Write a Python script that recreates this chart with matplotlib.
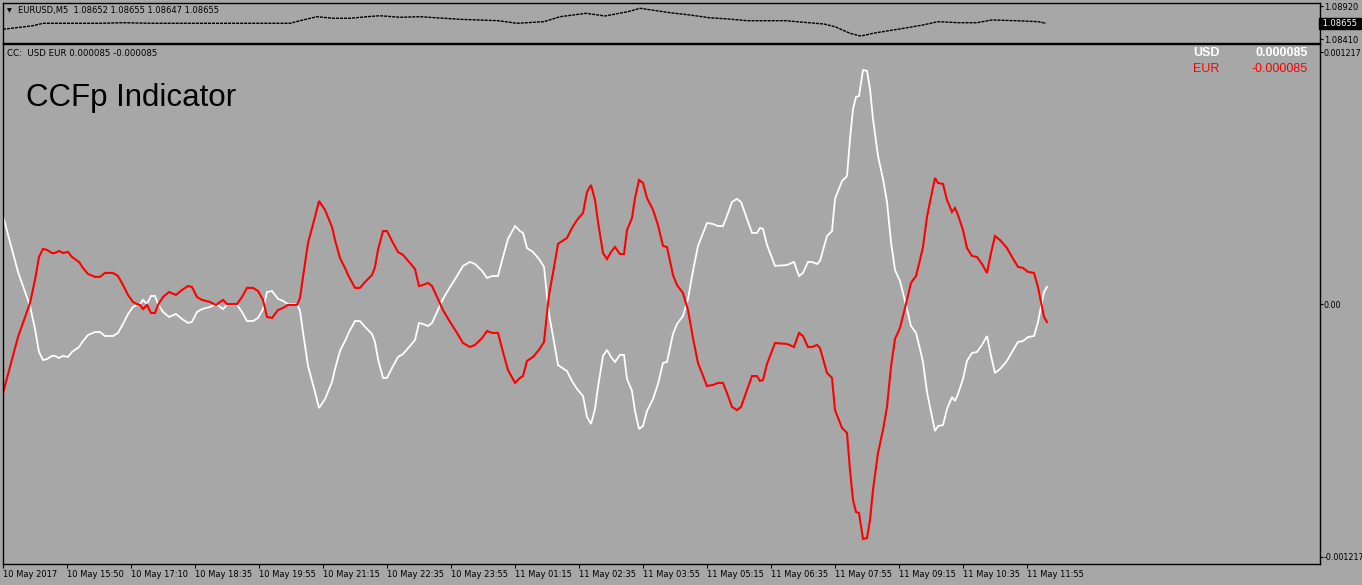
import numpy as np
import matplotlib
matplotlib.use("Agg")
import matplotlib.pyplot as plt

# ---------------- data ----------------
# CCFp indicator, EUR line (values in millionths); USD line is its mirror
eur_bar = [0, 1.75, 3.75, 5, 6.75, 8, 9, 10, 11, 12.25, 13, 14, 15, 16.25, 17.25, 19, 20, 21.25, 23, 24.25,
           25.5, 27.5, 28.75, 30, 31.25, 32.5, 33.5, 34.25, 35, 36, 37, 38, 38.75, 40, 41.5, 43.25, 44.75,
           46.25, 47.25, 48.5, 49.75, 51.75, 53.25, 55, 56, 58.5, 59.75, 61, 62.5, 63.75, 65, 66, 67.25,
           68.75, 70, 71.25, 73.5, 74.25, 75, 76.25, 78, 79, 80.5, 82.25, 83, 84.25, 85.5, 86.5, 88, 89.25,
           90.5, 92.25, 93, 93.75, 95, 96, 97.25, 98.75, 100, 101.75, 103, 104, 105, 106.25, 107.25, 108.5,
           110, 111.75, 113.5, 115, 116.75, 118, 119.75, 121, 122.25, 123.75, 125, 126.25, 128, 129.25, 130,
           131, 132.5, 134, 135.25, 136, 136.5, 137.5, 138.75, 141, 142.25, 143.5, 145, 146, 147, 148,
           148.75, 150, 151, 152, 153, 154.25, 155.25, 156, 157.25, 158, 159, 160, 161, 162.5, 163.75, 165,
           166, 167.5, 168.5, 170, 171.25, 172.5, 173.75, 176, 177.5, 178.75, 180, 181, 182.25, 183.5, 184.5,
           186, 187.25, 188.5, 189.25, 190, 191, 193, 196, 197.75, 199, 200, 201.25, 202.25, 203.5, 204.25,
           206, 207.25, 208, 209.75, 211, 211.75, 212.5, 213.25, 214, 215, 216, 216.75, 217.5, 218.75, 220,
           221, 222, 223, 224.25, 225, 226, 227, 228.25, 229.25, 230, 231, 232, 233, 233.75, 235, 236,
           237.25, 238, 238.75, 240, 241, 242.25, 243.5, 244.75, 246, 247, 248, 249.25, 251, 252.25, 253.75,
           255, 256.25, 257.75, 258.75, 259.75, 260.25, 261]
eur_u = [-427, -301, -157, -89, 7, 118, 229, 268, 263, 248, 248, 258, 248, 253, 229, 205, 176, 147, 133, 133,
         152, 152, 137, 94, 46, 12, 2, -2, -22, -2, -41, -41, -2, 36, 60, 46, 70,
         89, 84, 36, 22, 12, -2, 22, 2, 2, 36, 80, 80, 65, 22, -60, -65,
         -27, -17, -2, -2, 31, 133, 296, 422, 499, 456, 374, 311, 224, 176, 133, 80, 80,
         108, 142, 181, 263, 354, 354, 306, 253, 239, 200, 171, 89, 94, 104, 89, 36,
         -27, -84, -137, -186, -205, -195, -162, -128, -137, -137, -229, -316, -378, -354, -345,
         -272, -253, -219, -181, -41, 46, 152, 292, 321, 369, 407, 441, 542, 576, 504,
         398, 248, 219, 253, 277, 243, 243, 359, 417, 513, 600, 586, 513, 456, 383, 282,
         277, 142, 94, 55, -27, -162, -282, -393, -388, -378, -378, -427, -494, -509, -494,
         -412, -345, -345, -369, -364, -287, -186, -190, -205, -137, -152, -205, -205, -195, -210,
         -330, -354, -509, -595, -619, -798, -942, -1000, -1005, -1130, -1126, -1039, -894, -716, -605,
         -494, -301, -166, -113, -55, 22, 104, 137, 215, 277, 422, 518, 610, 586, 581, 504,
         446, 465, 431, 359, 272, 234, 229, 195, 152, 248, 330, 311, 272, 229, 181,
         176, 157, 152, 84, -12, -60, -85]

# EURUSD M5 price strip (closes read at sample bars)
px_bar = [0, 7.5, 10, 24.25, 30, 36.75, 49.25, 57.5, 66, 71.75, 75, 78.5, 82.5, 86.75, 91, 94.25, 99.25, 104.25,
          114.25, 123.75, 128.5, 135.25, 139.25, 145.75, 150.5, 156.25, 159.25, 166.75, 171.75, 176.5, 181.25,
          186, 195.5, 205.25, 208, 211.75, 214.25, 215.75, 217.5, 221.5, 225.25, 230, 233.75, 238.75, 243.5,
          247.25, 253, 258.75, 260.75]
px_close = [1.08563, 1.08618, 1.08655, 1.08655, 1.08664, 1.08655, 1.08655, 1.08655, 1.08655, 1.08655, 1.08706,
            1.08756, 1.08732, 1.08732, 1.08756, 1.08771, 1.08747, 1.08756,
            1.08716, 1.08695, 1.08655, 1.08680, 1.08756, 1.08808, 1.08767, 1.08833, 1.08885, 1.08817, 1.08782,
            1.08741, 1.08721, 1.08695, 1.08695, 1.08644, 1.08603, 1.08502, 1.08461, 1.08476, 1.08502, 1.08542,
            1.08579, 1.08629, 1.08680, 1.08664, 1.08664, 1.08706, 1.08695, 1.08680, 1.08655]

x_ticks = [0, 16, 32, 48, 64, 80, 96, 112, 128, 144, 160, 176, 192, 208, 224, 240, 256]
x_labels = ["10 May 2017", "10 May 15:50", "10 May 17:10", "10 May 18:35", "10 May 19:55", "10 May 21:15",
            "10 May 22:35", "10 May 23:55", "11 May 01:15", "11 May 02:35", "11 May 03:55", "11 May 05:15",
            "11 May 06:35", "11 May 07:55", "11 May 09:15", "11 May 10:35", "11 May 11:55"]

# ---------------- figure ----------------
W, H = 1362, 585
BG = "#a7a7a7"
fig = plt.figure(figsize=(W / 100, H / 100), dpi=100, facecolor=BG)


def rect(x0, y0, x1, y1):
    return [x0 / W, 1 - y1 / H, (x1 - x0) / W, (y1 - y0) / H]


ax_top = fig.add_axes(rect(3, 3, 1320, 43), facecolor=BG)
ax = fig.add_axes(rect(3, 44, 1320, 564), facecolor=BG)

eur = np.array(eur_u) * 1e-6
usd = -eur
xb = np.array(eur_bar)

ax.plot(xb, usd, color="white", lw=1.3, solid_joinstyle="miter")
ax.plot(xb, eur, color="#ff0000", lw=1.5, solid_joinstyle="miter")
ax.set_xlim(0, 329.25)
ax.set_ylim(-0.001251, 0.0012556)

for a in (ax, ax_top):
    for s in a.spines.values():
        s.set_color("black")
        s.set_linewidth(1.0)

ax.yaxis.tick_right()
ax.set_yticks([0.001217, 0.0, -0.001217])
ax.set_yticklabels(["0.001217", "0.00", "-0.001217"])
ax.tick_params(axis="y", direction="out", length=2, width=0.8, pad=0.8, labelsize=5.8, colors="black")
ax.set_xticks(x_ticks)
ax.set_xticklabels(x_labels, ha="left")
ax.tick_params(axis="x", direction="out", length=3, width=0.8, pad=1.5, labelsize=6, colors="black")

# top price strip
ax_top.plot(px_bar, px_close, color="black", lw=1.0, linestyle=(0, (2.2, 0.7)))
ax_top.set_xlim(0, 329.25)
ax_top.set_ylim(1.08353, 1.08966)
ax_top.set_xticks([])
ax_top.yaxis.tick_right()
ax_top.set_yticks([1.0892, 1.0841])
ax_top.set_yticklabels(["1.08920", "1.08410"])
ax_top.tick_params(axis="y", direction="out", length=2, width=0.8, pad=1, labelsize=6, colors="black")
ax_top.text(1.0, 1.08655, " 1.08655 ", transform=ax_top.get_yaxis_transform(), ha="left", va="center",
            fontsize=6, color="white", clip_on=False,
            bbox=dict(boxstyle="square,pad=0.15", facecolor="black", edgecolor="black"))


def ftext(x, y, s, **kw):
    fig.text(x / W, 1 - y / H, s, **kw)


ftext(7, 11, "\u25bc", fontsize=4.5, color="black", va="center", ha="left", family="DejaVu Sans")
ftext(18, 11, "EURUSD,M5  1.08652 1.08655 1.08647 1.08655", fontsize=6, color="black", va="center")
ftext(7, 53, "CC:  USD EUR 0.000085 -0.000085", fontsize=6.2, color="black", va="center")
ftext(26, 98, "CCFp Indicator", fontsize=22.5, color="black", va="center", family="Liberation Sans")
ftext(1193, 53, "USD", fontsize=9, color="white", va="center", ha="left", family="Liberation Sans",
      weight="bold")
ftext(1308, 53, "0.000085", fontsize=9, color="white", va="center", ha="right", family="Liberation Sans",
      weight="bold")
ftext(1193, 69.5, "EUR", fontsize=9, color="#ff0000", va="center", ha="left", family="Liberation Sans")
ftext(1308, 69.5, "-0.000085", fontsize=9, color="#ff0000", va="center", ha="right", family="Liberation Sans")

fig.savefig("out.png", dpi=100, facecolor=BG)
